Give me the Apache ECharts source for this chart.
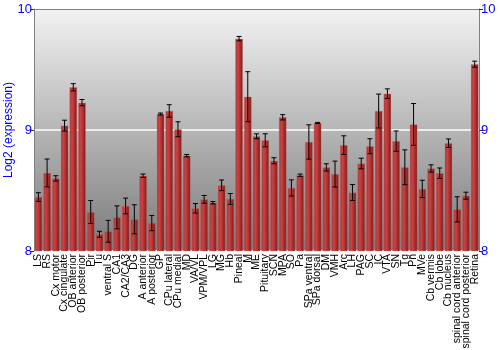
<!DOCTYPE html>
<html><head><meta charset="utf-8">
<script src="https://cdn.jsdelivr.net/npm/echarts@6/dist/echarts.min.js"></script>
<style>html,body{margin:0;padding:0;background:#fff}#c{width:500px;height:350px}</style>
</head><body><div id="c"></div>
<script>
var categories = ["LS","RS","Cx motor","Cx cingulate","OB anterior","OB posterior","Pir","Tu","ventral S","CA1","CA2/CA3","DG","A anterior","A posterior","GP","CPu lateral","CPu medial","MD","VA/VL","VPM/VPL","LG","MG","Hb","Pineal","M","ME","Pituitary","SCN","MPA","SO","Pa","SPa ventral","SPa dorsal","DM","VMH","Arc","LH","PAG","SC","IC","VTA","SN","Tg","Pn","MVe","Cb vermis","Cb lobe","Cb nucleus","spinal cord anterior","spinal cord posterior","Retina"];
var means = [8.446,8.645,8.60,9.036,9.353,9.226,8.322,8.138,8.163,8.278,8.372,8.262,8.622,8.231,9.132,9.157,9.006,8.788,8.353,8.427,8.399,8.543,8.430,9.755,9.275,8.948,8.915,8.746,9.105,8.521,8.626,8.901,9.058,8.691,8.636,8.875,8.483,8.723,8.866,9.157,9.30,8.908,8.692,9.046,8.513,8.682,8.643,8.891,8.344,8.457,9.544];
var errors = [0.036,0.115,0.022,0.045,0.03,0.026,0.095,0.025,0.09,0.095,0.065,0.12,0.014,0.063,0.008,0.052,0.062,0.01,0.039,0.032,0.01,0.044,0.045,0.018,0.207,0.02,0.054,0.025,0.022,0.067,0.01,0.142,0.005,0.03,0.107,0.077,0.066,0.044,0.062,0.14,0.04,0.084,0.144,0.173,0.072,0.03,0.043,0.035,0.104,0.029,0.025];
var yTicks = [8, 9, 10];

var errData = means.map(function(m, i){ return [i, m - errors[i], m + errors[i]]; });
var blue = '#0000ff';
var chart = echarts.init(document.getElementById('c'), null, {renderer:'canvas'});
chart.setOption({
  animation: false,
  grid: {left: 34, right: 21, top: 9, bottom: 99, show: true, borderWidth: 0,
    containLabel: false, outerBoundsMode: 'none',
    backgroundColor: {type:'linear', x:0, y:0, x2:0, y2:1, colorStops:[{offset:0,color:'#f2f2f2'},{offset:1,color:'#7a7a7a'}]}},
  xAxis: [{
    type: 'category', data: categories, position: 'bottom',
    axisLine: {show: false}, axisTick: {show: false},
    axisLabel: {rotate: 90, interval: 0, fontSize: 10.5, color: '#000', fontFamily: 'Liberation Sans', margin: 3}
  }, {
    type: 'category', data: categories, position: 'top',
    axisLine: {show: true, lineStyle: {color: '#808080'}}, axisTick: {show: false}, axisLabel: {show: false}
  }],
  yAxis: [{
    type: 'value', min: 8, max: 10, interval: 1, position: 'left',
    name: 'Log2 (expression)', nameLocation: 'middle', nameGap: 19, nameMoveOverlap: false,
    nameTextStyle: {color: blue, fontSize: 12, fontFamily: 'Liberation Sans'},
    axisLine: {show: true, lineStyle: {color: '#808080'}},
    axisTick: {show: true, length: 4, lineStyle: {color: '#333'}},
    axisLabel: {color: blue, fontSize: 13, fontFamily: 'Liberation Sans', margin: 2,
      formatter: function(v){ return yTicks.indexOf(v) >= 0 ? String(v) : ''; }},
    splitLine: {show: true, lineStyle: {color: '#ffffff', width: 1.5}}
  }, {
    type: 'value', min: 8, max: 10, interval: 1, position: 'right',
    axisLine: {show: true, lineStyle: {color: '#808080'}},
    axisTick: {show: true, length: 4, lineStyle: {color: '#333'}},
    axisLabel: {color: blue, fontSize: 13, fontFamily: 'Liberation Sans', margin: 2},
    splitLine: {show: false}
  }],
  series: [{
    type: 'bar', data: means, barCategoryGap: '14%', xAxisIndex: 0, yAxisIndex: 0,
    itemStyle: {
      color: {type:'linear', x:0, y:0, x2:1, y2:0, colorStops:[
        {offset:0, color:'#b03232'},{offset:0.35, color:'#c64444'},{offset:0.7, color:'#a82a2a'},{offset:1, color:'#7c1818'}]},
      borderColor: 'rgba(200,120,120,0.6)', borderWidth: 0.5
    }
  }, {
    type: 'custom', xAxisIndex: 0, yAxisIndex: 0, data: errData, z: 5,
    renderItem: function(params, api){
      var x = api.value(0);
      var lo = api.coord([x, api.value(1)]);
      var hi = api.coord([x, api.value(2)]);
      var hw = 2.5;
      var st = {stroke: '#000', lineWidth: 1};
      return {type: 'group', children: [
        {type:'line', shape:{x1:lo[0], y1:lo[1], x2:hi[0], y2:hi[1]}, style: st},
        {type:'line', shape:{x1:lo[0]-hw, y1:lo[1], x2:lo[0]+hw, y2:lo[1]}, style: st},
        {type:'line', shape:{x1:hi[0]-hw, y1:hi[1], x2:hi[0]+hw, y2:hi[1]}, style: st}
      ]};
    }
  }]
});
</script></body></html>
